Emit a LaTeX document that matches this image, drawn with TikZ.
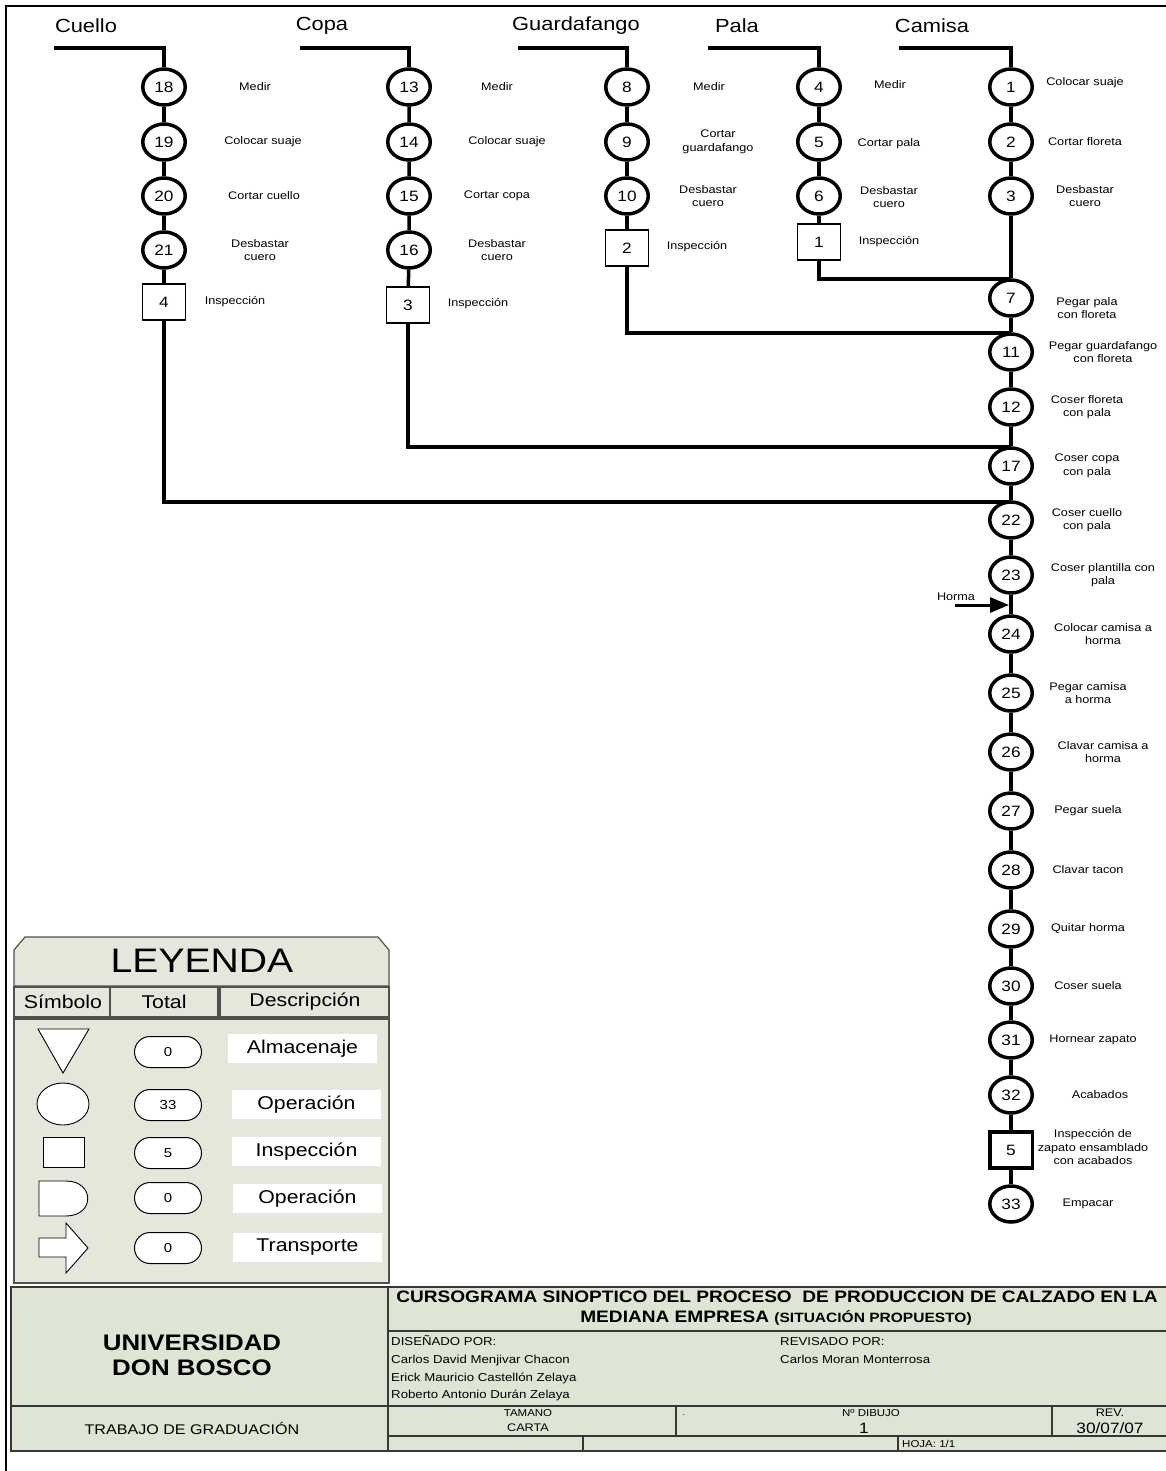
\documentclass[tikz,border=0pt]{standalone}
\usepackage{fontspec}
\setmainfont{Liberation Sans}[FakeStretch=1.15]
\usetikzlibrary{arrows.meta,shapes.geometric}
\newcommand\fsz[2]{\fontsize{#1}{#2}\selectfont}
\definecolor{legfill}{RGB}{229,231,219}
\definecolor{tbfill}{RGB}{222,229,212}
\definecolor{tbline}{RGB}{55,55,55}
\definecolor{legline}{RGB}{80,80,80}
\begin{document}
\begin{tikzpicture}[x=1pt,y=-1pt,
  flow/.style={line width=3.5pt},
  op/.style={ellipse, draw, line width=3.5pt, fill=white, minimum width=42.5pt,
    minimum height=36pt, inner sep=0pt, font=\fsz{15}{15}},
  ins/.style={rectangle, draw, line width=1.3pt, fill=white, minimum width=43pt,
    minimum height=36pt, inner sep=0pt, font=\fsz{15}{15}},
  insB/.style={ins, line width=3.5pt, minimum width=42.5pt, minimum height=36pt},
  lbl/.style={align=center, inner sep=0pt, font=\fsz{11}{13.5}},
  ttl/.style={inner sep=0pt, font=\fsz{19}{19}},
  pill/.style={draw, line width=1pt, fill=white, rounded corners=15.5pt,
    minimum width=67pt, minimum height=31pt, inner sep=0pt, font=\fsz{13}{13}},
  descbox/.style={fill=white, minimum width=149pt, minimum height=29pt,
    inner sep=0pt, font=\fsz{18.5}{18.5}},
  hdr/.style={inner sep=0pt, font=\fsz{18.5}{18.5}},
  legshape/.style={draw=black, line width=0.9pt, fill=white},
  tbtext/.style={inner sep=0pt, font=\fsz{11.5}{17.7}, align=left, anchor=west},
]
\useasboundingbox (0,0) rectangle (1166,1471);

% sheet frame
\draw[line width=2.5pt] (6,1471) -- (6,6) -- (1166,6);

% ---------------- column titles ----------------
\node[ttl] (tCu) at (86,26) {Cuello};
\node[ttl] (tCo) at (322,26) {Copa};
\node[ttl] (tGu) at (576,26) {Guardafango};
\node[ttl] (tPa) at (737,26) {Pala};
\node[ttl] (tCa) at (932,26) {Camisa};

% ---------------- Cuello ----------------
\coordinate (cuS) at (54,48);
\coordinate (cuC) at (164,48);
\node[op] (c18) at (164,87) {18};
\node[op] (c19) at (164,142) {19};
\node[op] (c20) at (164,196) {20};
\node[op] (c21) at (164,250) {21};
\node[ins] (i4) at (164,302) {4};
\node[lbl] at (255,87) {Medir};
\node[lbl] at (263,142) {Colocar suaje};
\node[lbl] at (264,196) {Cortar cuello};
\node[lbl] at (260,250) {Desbastar\\cuero};
\node[lbl] at (235,302) {Inspección};

% ---------------- Copa ----------------
\coordinate (coS) at (300,48);
\coordinate (coC) at (409,48);
\node[op] (c13) at (409,87) {13};
\node[op] (c14) at (409,142) {14};
\node[op] (c15) at (409,196) {15};
\node[op] (c16) at (409,250) {16};
\node[ins] (i3) at (408,305) {3};
\node[lbl] at (497,87) {Medir};
\node[lbl] at (507,142) {Colocar suaje};
\node[lbl] at (497,196) {Cortar copa};
\node[lbl] at (497,250) {Desbastar\\cuero};
\node[lbl] at (478,304) {Inspección};

% ---------------- Guardafango ----------------
\coordinate (guS) at (518,48);
\coordinate (guC) at (627,48);
\node[op] (c8) at (627,87) {8};
\node[op] (c9) at (627,142) {9};
\node[op] (c10) at (627,196) {10};
\node[ins] (i2) at (627,248) {2};
\node[lbl] at (709,87) {Medir};
\node[lbl] at (718,142) {Cortar\\guardafango};
\node[lbl] at (708,196) {Desbastar\\cuero};
\node[lbl] at (697,247) {Inspección};

% ---------------- Pala ----------------
\coordinate (paS) at (708,48);
\coordinate (paC) at (819,48);
\node[op] (c4) at (819,87) {4};
\node[op] (c5) at (819,142) {5};
\node[op] (c6) at (819,196) {6};
\node[ins] (i1) at (819,242) {1};
\node[lbl] at (890,85) {Medir};
\node[lbl] at (889,144) {Cortar pala};
\node[lbl] at (889,197) {Desbastar\\cuero};
\node[lbl] at (889,242) {Inspección};

% ---------------- Camisa and main line ----------------
\coordinate (caS) at (899,48);
\coordinate (caC) at (1011,48);
\node[op] (c1) at (1011,87) {1};
\node[op] (c2) at (1011,142) {2};
\node[op] (c3) at (1011,196) {3};
\node[op] (c7) at (1011,298) {7};
\node[op] (c11) at (1011,352) {11};
\node[op] (c12) at (1011,407) {12};
\node[op] (c17) at (1011,466) {17};
\node[op] (c22) at (1011,520) {22};
\node[op] (c23) at (1011,575) {23};
\node[op] (c24) at (1011,634) {24};
\node[op] (c25) at (1011,693) {25};
\node[op] (c26) at (1011,752) {26};
\node[op] (c27) at (1011,811) {27};
\node[op] (c28) at (1011,870) {28};
\node[op] (c29) at (1011,929) {29};
\node[op] (c30) at (1011,986) {30};
\node[op] (c31) at (1011,1040) {31};
\node[op] (c32) at (1011,1095) {32};
\node[insB] (i5) at (1011,1150) {5};
\node[op] (c33) at (1011,1204) {33};

\node[lbl] at (1085,83) {Colocar suaje};
\node[lbl] at (1085,142) {Cortar floreta};
\node[lbl] at (1085,196) {Desbastar\\cuero};
\node[lbl] at (1087,308) {Pegar pala\\con floreta};
\node[lbl] at (1103,352) {Pegar guardafango\\con floreta};
\node[lbl] at (1087,407) {Coser floreta\\con pala};
\node[lbl] at (1087,466) {Coser copa\\con pala};
\node[lbl] at (1087,520) {Coser cuello\\con pala};
\node[lbl] at (1103,575) {Coser plantilla con\\pala};
\node[lbl] at (1103,634) {Colocar camisa a\\horma};
\node[lbl] at (1088,693) {Pegar camisa\\a horma};
\node[lbl] at (1103,752) {Clavar camisa a\\horma};
\node[lbl] at (1088,811) {Pegar suela};
\node[lbl] at (1088,870) {Clavar tacon};
\node[lbl] at (1088,929) {Quitar horma};
\node[lbl] at (1088,986) {Coser suela};
\node[lbl] at (1093,1040) {Hornear zapato};
\node[lbl] at (1100,1095) {Acabados};
\node[lbl] at (1093,1147) {Inspección de\\zapato ensamblado\\con acabados};
\node[lbl] at (1088,1204) {Empacar};

% joins into the main line
\coordinate (jPa) at (1011,279);
\coordinate (jGu) at (1011,333);
\coordinate (jCo) at (1011,447);
\coordinate (jCu) at (1011,502);

% Horma input
\coordinate (hS) at (955,605);
\coordinate (hE) at (1009,605);
\node[lbl] (horma) at (956,597) {Horma};

% ---------------- connectors ----------------
\draw[flow] (cuS) -- (cuC) -- (c18);
\draw[flow] (c18) -- (c19) -- (c20) -- (c21) -- (i4);
\draw[flow] (i4.south) |- (jCu);

\draw[flow] (coS) -- (coC) -- (c13);
\draw[flow] (c13) -- (c14) -- (c15) -- (c16) -- (i3);
\draw[flow] (i3.south) |- (jCo);

\draw[flow] (guS) -- (guC) -- (c8);
\draw[flow] (c8) -- (c9) -- (c10) -- (i2);
\draw[flow] (i2.south) |- (jGu);

\draw[flow] (paS) -- (paC) -- (c4);
\draw[flow] (c4) -- (c5) -- (c6) -- (i1);
\draw[flow] (i1.south) |- (jPa);

\draw[flow] (caS) -- (caC) -- (c1);
\draw[flow] (c1) -- (c2) -- (c3) -- (c7) -- (c11) -- (c12) -- (c17) -- (c22)
  -- (c23) -- (c24) -- (c25) -- (c26) -- (c27) -- (c28) -- (c29) -- (c30)
  -- (c31) -- (c32) -- (i5) -- (c33);

\draw[line width=3pt, -{Triangle[length=19pt,width=15pt]}] (hS) -- (hE);

% ---------------- legend ----------------
\begin{scope}[draw=legline, line width=1.2pt]
  \filldraw[fill=legfill] (14,950) -- (25,937) -- (378,937) -- (389,950)
    -- (389,986) -- (14,986) -- cycle;
  \filldraw[fill=legfill] (14,987) rectangle (110,1017);
  \filldraw[fill=legfill] (110,987) rectangle (218,1017);
  \filldraw[fill=legfill] (220,987) rectangle (389,1017);
  \filldraw[fill=legfill] (14,1019) rectangle (389,1283);
\end{scope}
\node[inner sep=0pt, font=\fsz{34}{34}] (leyenda) at (202,961) {LEYENDA};
\node[hdr] (hSim) at (63,1002) {Símbolo};
\node[hdr] (hTot) at (164,1002) {Total};
\node[hdr] (hDes) at (305,1002) {Descripción};

% symbols
\draw[legshape] (38,1029) -- (89,1029) -- (63,1073) -- cycle;
\draw[legshape] (63,1104) ellipse [x radius=26pt, y radius=21pt];
\draw[legshape] (43,1137) rectangle (84,1167);
\draw[legshape] (39,1181) -- (66,1181) .. controls (95,1181) and (95,1216) .. (66,1216)
  -- (39,1216) -- cycle;
\draw[legshape] (39,1238) -- (66,1238) -- (66,1223) -- (88,1248) -- (66,1273)
  -- (66,1257) -- (39,1257) -- cycle;

% totals
\node[pill] (nAlm) at (168,1052) {0};
\node[pill] (nOp) at (168,1105) {33};
\node[pill] (nIns) at (168,1153) {5};
\node[pill] (nDem) at (168,1198) {0};
\node[pill] (nTra) at (168,1248) {0};

% descriptions
\node[descbox] (dAlm) at (302.5,1048.5) {Almacenaje};
\node[descbox] (dOp) at (306.5,1104.5) {Operación};
\node[descbox] (dIns) at (306.5,1151.5) {Inspección};
\node[descbox] (dDem) at (307.5,1198.5) {Operación};
\node[descbox] (dTra) at (307.5,1247.5) {Transporte};

% ---------------- title block ----------------
\fill[tbfill] (11,1287) rectangle (1166,1451);
\begin{scope}[draw=tbline]
  \draw[line width=2pt] (1166,1287) -- (11,1287) -- (11,1451) -- (1166,1451);
  \draw[line width=1.6pt] (388,1287) -- (388,1451);
  \draw[line width=1.6pt] (388,1331) -- (1166,1331);
  \draw[line width=1.6pt] (11,1406) -- (1166,1406);
  \draw[line width=1.6pt] (388,1436) -- (1166,1436);
  \draw[line width=1.3pt] (676,1406) -- (676,1436);
  \draw[line width=1.3pt] (1052,1406) -- (1052,1436);
  \draw[line width=1.3pt] (583,1436) -- (583,1451);
  \draw[line width=1.3pt] (898,1436) -- (898,1451);
\end{scope}

\node[inner sep=0pt, align=center, font=\bfseries\fsz{22.5}{24.5}] (udb) at (192,1355)
  {UNIVERSIDAD\\DON BOSCO};
\node[inner sep=0pt, font=\fsz{14}{14}] (tg) at (192,1428) {TRABAJO DE GRADUACIÓN};
\node[inner sep=0pt, font=\bfseries\fsz{16.6}{16.6}] (t1) at (777,1297)
  {CURSOGRAMA SINOPTICO DEL PROCESO\ \ DE PRODUCCION DE CALZADO EN LA};
\node[inner sep=0pt, font=\bfseries\fsz{16.6}{16.6}] (t2) at (776,1318)
  {MEDIANA EMPRESA {\fsz{13.5}{13.5}(SITUACIÓN PROPUESTO)}};
\node[tbtext] (dis) at (391,1368.5)
  {DISEÑADO POR:\\Carlos David Menjivar Chacon\\Erick Mauricio Castellón Zelaya\\Roberto Antonio Durán Zelaya};
\node[tbtext] (rev) at (780,1350.5) {REVISADO POR:\\Carlos Moran Monterrosa};
\node[inner sep=0pt, font=\fsz{10}{10}] (tam) at (528,1413) {TAMANO};
\node[inner sep=0pt, font=\fsz{11}{11}] (car) at (528,1428) {CARTA};
\node[inner sep=0pt, font=\fsz{8}{8}] (dot) at (684,1415) {.};
\node[inner sep=0pt, font=\fsz{10}{10}] (ndib) at (871,1413) {Nº DIBUJO};
\node[inner sep=0pt, font=\fsz{15}{15}] (n1) at (864,1428) {1};
\node[inner sep=0pt, font=\fsz{11}{11}] (rv) at (1110,1413) {REV.};
\node[inner sep=0pt, font=\fsz{15}{15}] (fecha) at (1110,1428) {30/07/07};
\node[inner sep=0pt, font=\fsz{10}{10}, anchor=west] (hoja) at (902,1443.5) {HOJA: 1/1};
\end{tikzpicture}
\end{document}
